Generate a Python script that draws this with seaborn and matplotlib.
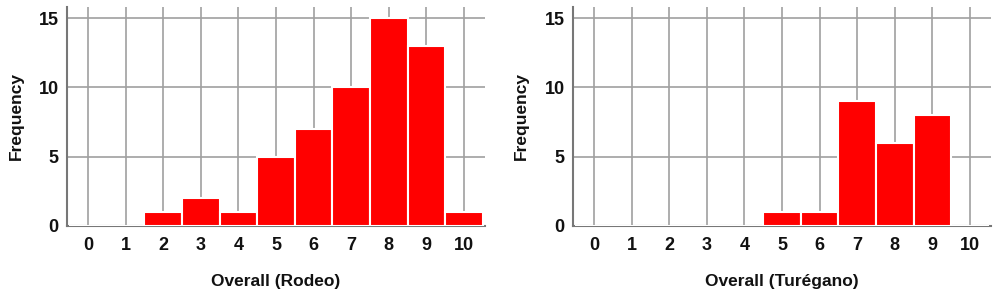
import numpy as np
import pandas as pd
import matplotlib
matplotlib.use("Agg")
import matplotlib.pyplot as plt
import seaborn as sns

scores = [0, 1, 2, 3, 4, 5, 6, 7, 8, 9, 10]
rodeo_counts = [0, 0, 1, 2, 1, 5, 7, 10, 15, 13, 1]
turegano_counts = [0, 0, 0, 0, 0, 1, 1, 9, 6, 8, 0]
y_ticks = [0, 5, 10, 15]
titles = ["Overall (Rodeo)", "Overall (Turégano)"]

sns.set_style("white")
plt.rcParams['font.family'] = ['Liberation Sans', 'DejaVu Sans']
plt.rcParams['text.color'] = '#111111'
plt.rcParams['axes.labelcolor'] = '#111111'
plt.rcParams['xtick.color'] = '#111111'
plt.rcParams['ytick.color'] = '#111111'

fig = plt.figure(figsize=(10, 2.94), dpi=100)
H = 294.0
rects = [
    [67/1000, (H-226)/H, 418/1000, 219/H],
    [573/1000, (H-226)/H, 418/1000, 219/H],
]
ylabel_x = [24, 529]

for i, (counts, title) in enumerate(zip([rodeo_counts, turegano_counts], titles)):
    ax = fig.add_axes(rects[i])
    df = pd.DataFrame({"score": scores, "count": counts})
    sns.histplot(data=df, x="score", weights="count", discrete=True, ax=ax,
                 color="#ff0000", alpha=1, edgecolor="white", linewidth=1.5, zorder=3)
    ax.set_xlim(-0.56, 10.56)
    ax.set_ylim(0, 15.8)
    ax.set_xticks(scores)
    ax.set_yticks(y_ticks)
    ax.set_xticklabels([str(s) for s in scores], fontsize=13, fontweight="bold")
    ax.set_yticklabels([str(t) for t in y_ticks], fontsize=13, fontweight="bold")
    ax.tick_params(axis="x", length=0, pad=8)
    ax.tick_params(axis="y", length=0, pad=6)
    ax.grid(True, color="#a0a0a0", linewidth=1.2, zorder=0)
    ax.set_axisbelow(True)
    for s in ["top", "right"]:
        ax.spines[s].set_visible(False)
    for s in ["left", "bottom"]:
        ax.spines[s].set_color("#777777")
        ax.spines[s].set_linewidth(1.5)
    ax.set_xlabel(title, fontsize=12.5, fontweight="bold", labelpad=14)
    ax.set_ylabel("Frequency", fontsize=12.5, fontweight="bold")
    ax.yaxis.set_label_coords((ylabel_x[i] - rects[i][0]*1000) / 418, 0.5)

fig.savefig("out.png", dpi=100)
